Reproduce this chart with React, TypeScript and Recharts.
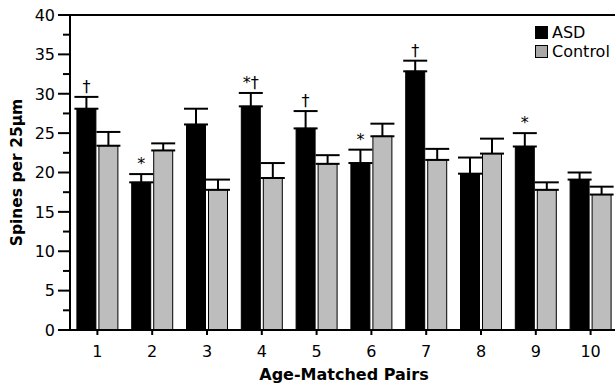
import { BarChart, Bar, XAxis, YAxis, ErrorBar, LabelList, Label, ReferenceLine } from "recharts";

const pairs = ["1", "2", "3", "4", "5", "6", "7", "8", "9", "10"];
const asdMeans = [28.1, 18.75, 26.1, 28.4, 25.6, 21.2, 32.85, 19.85, 23.3, 19.1];
const asdErrors = [1.5, 1.05, 2.0, 1.7, 2.2, 1.7, 1.35, 2.05, 1.7, 0.9];
const controlMeans = [23.4, 22.8, 17.8, 19.3, 21.1, 24.6, 21.6, 22.4, 17.8, 17.2];
const controlErrors = [1.75, 0.9, 1.3, 1.9, 1.1, 1.6, 1.4, 1.9, 0.95, 1.0];
const asdMarks = ["†", "*", "", "*†", "†", "*", "†", "", "*", ""];
const yTicks = [0, 2.5, 5, 7.5, 10, 12.5, 15, 17.5, 20, 22.5, 25, 27.5, 30, 32.5, 35, 37.5, 40];

const data = pairs.map((p, i) => ({
  pair: p,
  asd: asdMeans[i],
  asdErr: [0, asdErrors[i]],
  control: controlMeans[i],
  controlErr: [0, controlErrors[i]],
  mark: asdMarks[i],
}));

const FONT = "'DejaVu Sans', 'Liberation Sans', Arial, sans-serif";

const YTick = (props: any) => {
  const { x, y, payload } = props;
  const major = payload.value % 5 === 0;
  return (
    <g>
      <line x1={x - (major ? 12 : 7)} x2={x} y1={y} y2={y} stroke="#000" strokeWidth={2} />
      {major && (
        <text x={x - 15} y={y} dy="0.36em" textAnchor="end" fontSize={16} fontFamily={FONT} fill="#000">
          {payload.value}
        </text>
      )}
    </g>
  );
};

const MarkLabel = (props: any) => {
  const { x, y, width, height, index, value } = props;
  if (!value) return null;
  const pxPerUnit = height / asdMeans[index];
  const top = y - asdErrors[index] * pxPerUnit;
  return (
    <text x={x + width / 2} y={top - 5} textAnchor="middle" fontSize={16} fontFamily={FONT} fill="#000">
      {value}
    </text>
  );
};

const legendItems = [
  { name: "ASD", color: "#000" },
  { name: "Control", color: "#a8a8a8" },
];

export default function App() {
  return (
    <div style={{ position: "absolute", left: 0, top: 0, width: 615, height: 389, overflow: "hidden", background: "#fff" }}>
      <BarChart
        width={630}
        height={389}
        data={data}
        margin={{ top: 15, right: 12, left: 0, bottom: 0 }}
        barCategoryGap="12.6%"
        barGap={3}
      >
        <ReferenceLine y={40} stroke="#000" strokeWidth={2} />
        <XAxis
          dataKey="pair"
          height={59}
          axisLine={{ stroke: "#000", strokeWidth: 2 }}
          tickLine={{ stroke: "#000", strokeWidth: 2 }}
          tickSize={5}
          tickMargin={11}
          tick={{ fill: "#000", fontSize: 16, fontFamily: FONT }}
        >
          <Label
            value="Age-Matched Pairs"
            position="insideBottom"
            offset={9}
            fill="#000"
            fontSize={16}
            fontWeight="bold"
            fontFamily={FONT}
          />
        </XAxis>
        <YAxis
          width={70}
          domain={[0, 40]}
          ticks={yTicks}
          interval={0}
          tickSize={0}
          tickMargin={0}
          tickLine={false}
          axisLine={{ stroke: "#000", strokeWidth: 2 }}
          tick={<YTick />}
        >
          <Label
            content={(p: any) => {
              const vb = p.viewBox;
              const cx = vb.x + 17;
              const cy = vb.y + vb.height / 2;
              return (
                <text
                  x={cx}
                  y={cy}
                  transform={`rotate(-90 ${cx} ${cy})`}
                  textAnchor="middle"
                  dominantBaseline="central"
                  fontSize={15.5}
                  fontWeight="bold"
                  fontFamily={FONT}
                  fill="#000"
                >
                  Spines per 25μm
                </text>
              );
            }}
          />
        </YAxis>
        <Bar dataKey="asd" fill="#000" stroke="#000" strokeWidth={1} isAnimationActive={false}>
          <ErrorBar dataKey="asdErr" direction="y" width={12} stroke="#000" strokeWidth={2} />
          <LabelList dataKey="mark" content={<MarkLabel />} />
        </Bar>
        <Bar dataKey="control" fill="#bdbdbd" stroke="#000" strokeWidth={1} isAnimationActive={false}>
          <ErrorBar dataKey="controlErr" direction="y" width={12} stroke="#000" strokeWidth={2} />
        </Bar>
      </BarChart>
      <div style={{ position: "absolute", left: 535, top: 23, fontFamily: FONT, fontSize: 16, lineHeight: "19px", color: "#000" }}>
        {legendItems.map((it) => (
          <div key={it.name} style={{ display: "flex", alignItems: "center", height: 19 }}>
            <span style={{ display: "inline-block", boxSizing: "border-box", width: 13, height: 13, background: it.color, border: "1.5px solid #000", marginRight: 4 }} />
            <span>{it.name}</span>
          </div>
        ))}
      </div>
    </div>
  );
}
